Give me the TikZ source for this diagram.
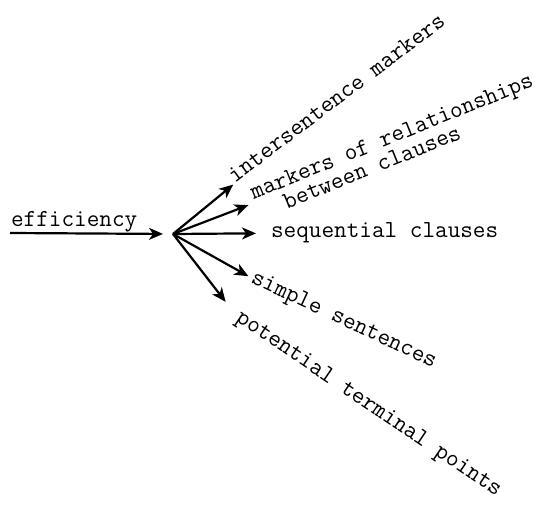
\documentclass[tikz,border=0pt]{standalone}
\usepackage{tikz}
\usetikzlibrary{arrows.meta}

\tikzset{
  lbl/.style={font=\fontsize{24.5}{16.5}\selectfont\ttfamily, inner sep=0pt}
}

\begin{document}
\begin{tikzpicture}[x=1pt,y=1pt,->,>={Stealth[length=14pt,width=12pt,inset=4pt]},
      line width=2.2pt]
    \useasboundingbox (0,0) rectangle (545,506);
    \node[lbl,anchor=south west] (eff) at (10,273) {efficiency};
    \coordinate (hub) at (173,272);
    \node[lbl,anchor=base west,rotate=37] (inter) at (234,322) {intersentence markers};
    \node[lbl,anchor=west,rotate=22,align=left] (mark) at (254,303)
      {markers of relationships\\\hspace*{27pt}between clauses};
    \node[lbl,anchor=base west] (seq) at (270,268) {sequential clauses};
    \node[lbl,anchor=base west,rotate=-25] (simp) at (249,224) {simple sentences};
    \node[lbl,anchor=base west,rotate=-34] (pot) at (234,186) {potential terminal points};
    \path (eff.south west) edge[shorten >=10pt] (hub)
    (hub) edge[shorten >=1pt] (inter.base west)
    edge[shorten >=6pt] (mark.west)
    edge[shorten >=14pt] (seq.west)
    edge[shorten >=3pt] (simp.west)
    edge[shorten >=18pt] (pot.west);
  \end{tikzpicture}
\end{document}
